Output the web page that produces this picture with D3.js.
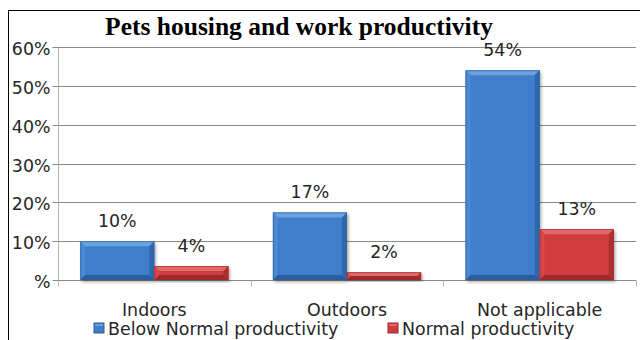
<!DOCTYPE html>
<html><head><meta charset="utf-8">
<script src="https://cdn.jsdelivr.net/npm/d3@7"></script>
<style>body{margin:0;background:#fff}svg{display:block}</style>
</head><body>
<svg id="c" width="640" height="340"></svg>
<script>
const title = "Pets housing and work productivity";
const categories = ["Indoors", "Outdoors", "Not applicable"];
const seriesNames = ["Below Normal productivity", "Normal productivity"];
const belowNormal = [0.10, 0.174, 0.54];
const normal = [0.036, 0.02, 0.131];
const valueLabels = [["10%", "17%", "54%"], ["4%", "2%", "13%"]];
const yTicks = [0, 0.1, 0.2, 0.3, 0.4, 0.5, 0.6];
const yTickLabels = ["%", "10%", "20%", "30%", "40%", "50%", "60%"];

const colors = [
  {main: "#3f7ecb", top: "#6da2e2", left: "#4c89d2", right: "#2f68ad", bottom: "#2b5d9c"},
  {main: "#cf3d3d", top: "#e26a6a", left: "#d54848", right: "#ad2f2f", bottom: "#9c2a2a"}
];
const font = "'DejaVu Sans', Verdana, sans-serif";
const fs = 17.4;
const svg = d3.select("#c");

// frame
svg.append("rect").attr("x", 8.5).attr("y", 10.5).attr("width", 700).attr("height", 400)
  .attr("fill", "none").attr("stroke", "#000").attr("stroke-width", 1);

const x = d3.scaleBand().domain(categories).range([58, 636]).paddingInner(0).paddingOuter(0);
const xs = d3.scaleBand().domain(seriesNames).range([0, x.bandwidth()]).paddingInner(0).paddingOuter(0.3);
const y = d3.scaleLinear().domain([0, 0.6]).range([280, 47]);

// gridlines
svg.append("g").selectAll("line").data(yTicks.slice(1)).join("line")
  .attr("x1", 58).attr("x2", 636).attr("y1", d => Math.round(y(d)) + 0.5).attr("y2", d => Math.round(y(d)) + 0.5)
  .attr("stroke", "#8a8a8a").attr("stroke-width", 1);

// y axis
const yAxis = d3.axisLeft(y).tickValues(yTicks).tickFormat((d, i) => yTickLabels[i]).tickSize(6).tickPadding(2);
const gy = svg.append("g").attr("transform", "translate(58.5,0)").call(yAxis);
gy.select(".domain").attr("stroke", "#b4b4b4").attr("d", "M-6," + (Math.round(y(0.6)) + 0.5) + "H0V" + (Math.round(y(0)) + 6));
gy.selectAll(".tick line").attr("stroke", "#8a8a8a");
gy.selectAll(".tick").attr("transform", d => "translate(0," + (Math.round(y(d)) + 0.5) + ")");
gy.selectAll(".tick text").attr("font-family", font).attr("font-size", fs).attr("fill", "#262626").attr("dy", "0.45em");

// x axis
const gx = svg.append("g").attr("transform", "translate(0," + (Math.round(y(0)) + 0.5) + ")");
gx.append("line").attr("x1", 58).attr("x2", 636).attr("stroke", "#8a8a8a");
const bounds = categories.map(c => x(c)).concat([x.range()[1]]);
gx.selectAll(".tk").data(bounds).join("line").attr("class", "tk")
  .attr("x1", d => Math.round(d) + 0.5).attr("x2", d => Math.round(d) + 0.5).attr("y1", 0).attr("y2", 6)
  .attr("stroke", "#b4b4b4");
gx.selectAll(".cl").data(categories).join("text").attr("class", "cl")
  .attr("x", d => x(d) + x.bandwidth() / 2).attr("y", 35)
  .attr("text-anchor", "middle").attr("font-family", font).attr("font-size", fs).attr("fill", "#262626")
  .text(d => d);

// shadow filter
const defs = svg.append("defs");
const f = defs.append("filter").attr("id", "sh").attr("x", "-20%").attr("y", "-20%").attr("width", "140%").attr("height", "140%");
f.append("feDropShadow").attr("dx", 1.5).attr("dy", 2).attr("stdDeviation", 1.5).attr("flood-color", "#000").attr("flood-opacity", 0.35);

const seriesData = [belowNormal, normal];
const bars = [];
seriesData.forEach((vals, si) => vals.forEach((v, ci) => bars.push({si, ci, v})));

const g = svg.append("g");
bars.forEach(d => {
  const bx = x(categories[d.ci]) + xs(seriesNames[d.si]);
  const bw = xs.bandwidth();
  const by = y(d.v), bh = y(0) - y(d.v);
  const c = colors[d.si];
  const b = Math.min(5, bh / 2);
  const bg = g.append("g");
  bg.append("rect").attr("x", bx).attr("y", by).attr("width", bw).attr("height", bh).attr("fill", c.main).attr("filter", "url(#sh)");
  bg.append("polygon").attr("points", [[bx, by], [bx + bw, by], [bx + bw - b, by + b], [bx + b, by + b]].join(" ")).attr("fill", c.top);
  bg.append("polygon").attr("points", [[bx, by], [bx + b, by + b], [bx + b, by + bh - b], [bx, by + bh]].join(" ")).attr("fill", c.left);
  bg.append("polygon").attr("points", [[bx + bw, by], [bx + bw - b, by + b], [bx + bw - b, by + bh - b], [bx + bw, by + bh]].join(" ")).attr("fill", c.right);
  bg.append("polygon").attr("points", [[bx, by + bh], [bx + b, by + bh - b], [bx + bw - b, by + bh - b], [bx + bw, by + bh]].join(" ")).attr("fill", c.bottom);
  bg.append("rect").attr("x", bx + 0.5).attr("y", by + 0.5).attr("width", bw - 1).attr("height", bh - 1)
    .attr("fill", "none").attr("stroke", c.bottom).attr("stroke-opacity", 0.6);
  g.append("text").attr("x", bx + bw / 2).attr("y", by - 14).attr("text-anchor", "middle")
    .attr("font-family", font).attr("font-size", fs).attr("fill", "#262626").text(valueLabels[d.si][d.ci]);
});

// title
svg.append("text").attr("x", 299).attr("y", 35).attr("text-anchor", "middle")
  .attr("font-family", "'Liberation Serif', 'Times New Roman', serif").attr("font-weight", "bold")
  .attr("font-size", 25.5).attr("fill", "#000").text(title);

// legend
const legX = [94, 388];
const lg = svg.append("g");
seriesNames.forEach((s, i) => {
  const c = colors[i];
  lg.append("rect").attr("x", legX[i]).attr("y", 323).attr("width", 10).attr("height", 10).attr("fill", c.main).attr("stroke", c.bottom).attr("stroke-width", 1);
  lg.append("rect").attr("x", legX[i] + 1).attr("y", 324).attr("width", 8).attr("height", 2).attr("fill", c.top);
  lg.append("text").attr("x", legX[i] + 14).attr("y", 335).attr("font-family", font).attr("font-size", fs).attr("fill", "#262626").text(s);
});
</script>
</body></html>
